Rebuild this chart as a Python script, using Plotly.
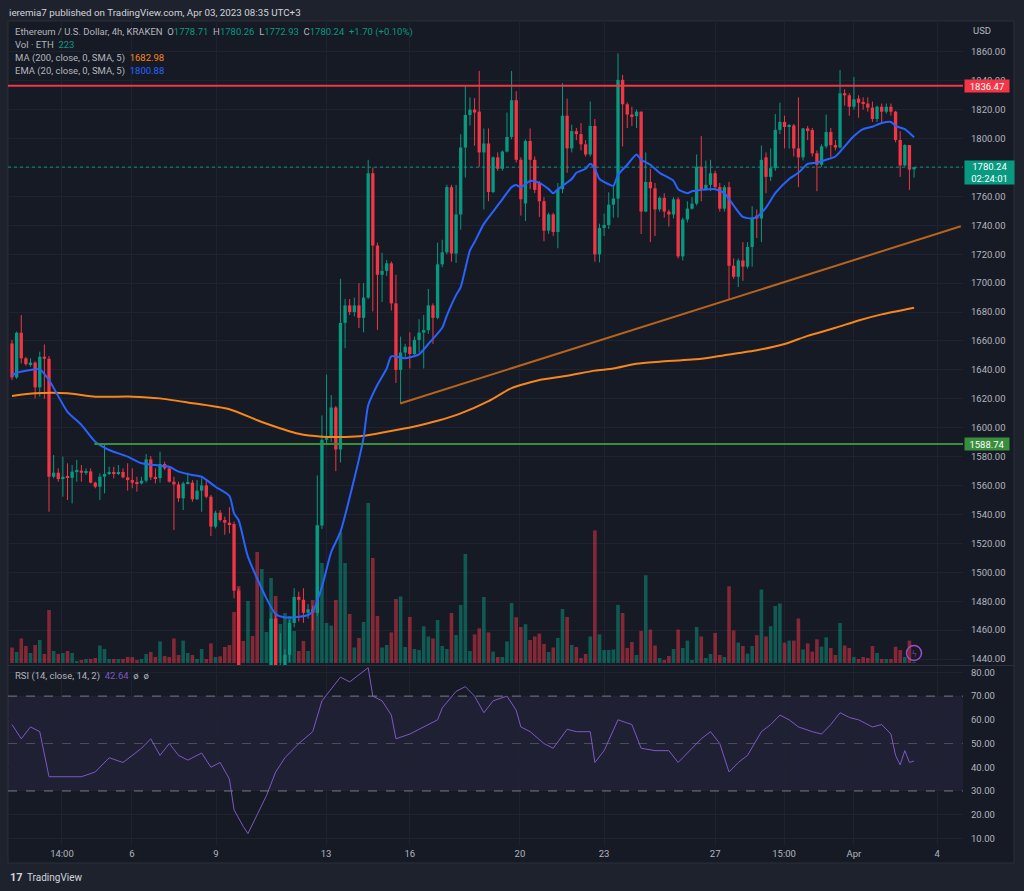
import plotly.graph_objects as go

W, H = 1024, 891

# ---------------- data (4h candles, ETH/USD, KRAKEN) ----------------
opens = [1658.3, 1634.8, 1665.7, 1648.0, 1644.0, 1645.0, 1627.9, 1649.1, 1647.7, 1566.1,
 1568.9, 1564.5, 1566.1, 1565.4, 1569.6, 1570.3, 1568.9, 1569.8, 1562.0, 1559.2,
 1566.1, 1568.0, 1568.9, 1568.0, 1569.4, 1565.7, 1563.8, 1562.0, 1561.5, 1563.4,
 1578.1, 1565.7, 1565.2, 1574.9, 1571.9, 1562.7, 1560.8, 1551.2, 1561.5, 1562.0,
 1550.5, 1556.5, 1560.1, 1552.3, 1531.6, 1541.2, 1536.2, 1534.3, 1533.4, 1487.3,
 1425.0, 1415.0, 1420.0, 1408.0, 1392.0, 1410.0, 1422.0, 1468.0, 1428.0, 1434.0,
 1443.0, 1465.0, 1483.0, 1481.0, 1472.0, 1474.4, 1472.0, 1532.4, 1591.6, 1594.0,
 1614.0, 1585.0, 1672.5, 1684.6, 1680.0, 1684.6, 1676.0, 1690.0, 1776.0, 1726.0,
 1705.8, 1708.5, 1713.7, 1686.0, 1640.0, 1652.0, 1656.0, 1651.0, 1660.7, 1665.8,
 1667.5, 1684.6, 1676.0, 1713.0, 1721.3, 1766.4, 1720.5, 1747.5, 1793.8, 1816.3,
 1820.0, 1818.6, 1790.4, 1796.6, 1763.0, 1787.0, 1779.1, 1791.0, 1801.1, 1826.5,
 1785.3, 1755.1, 1798.3, 1785.3, 1769.3, 1756.6, 1736.3, 1747.5, 1735.4, 1765.0,
 1815.8, 1793.2, 1805.1, 1803.1, 1796.0, 1789.0, 1808.7, 1719.9, 1738.2, 1740.2,
 1754.3, 1758.5, 1840.6, 1823.7, 1816.6, 1815.5, 1818.6, 1749.5, 1770.0, 1765.6,
 1751.0, 1759.0, 1749.5, 1747.5, 1758.0, 1718.5, 1744.0, 1751.5, 1755.0, 1780.5,
 1765.0, 1768.0, 1776.0, 1766.4, 1751.5, 1766.4, 1712.0, 1704.4, 1715.7, 1711.4,
 1725.0, 1746.7, 1744.7, 1787.0, 1773.5, 1779.5, 1806.0, 1811.5, 1808.0, 1809.0,
 1793.2, 1787.0, 1807.0, 1805.9, 1789.8, 1781.9, 1794.6, 1804.5, 1795.5, 1793.8,
 1831.3, 1829.9, 1822.0, 1827.6, 1824.8, 1824.2, 1821.4, 1813.5, 1822.0, 1818.6,
 1822.0, 1818.6, 1799.0, 1781.4, 1795.5, 1778.71]

highs = [1660.6, 1666.5, 1677.9, 1649.0, 1648.0, 1646.0, 1652.6, 1657.6, 1649.6, 1581.1,
 1571.9, 1580.0, 1575.4, 1574.2, 1577.7, 1574.2, 1571.9, 1571.9, 1562.7, 1568.4,
 1588.5, 1573.0, 1573.0, 1574.2, 1571.9, 1575.4, 1571.9, 1566.1, 1566.1, 1581.8,
 1580.4, 1571.9, 1583.4, 1576.5, 1573.0, 1566.1, 1562.7, 1562.7, 1568.9, 1563.8,
 1563.8, 1565.0, 1563.8, 1553.5, 1542.6, 1543.1, 1538.5, 1545.0, 1535.0, 1489.0,
 1432.0, 1428.0, 1430.0, 1425.0, 1420.0, 1434.0, 1472.0, 1472.0, 1458.0, 1447.0,
 1467.0, 1489.0, 1486.6, 1489.0, 1478.0, 1477.0, 1567.0, 1608.5, 1636.7, 1622.6,
 1615.0, 1703.0, 1689.0, 1689.0, 1690.0, 1700.0, 1700.0, 1785.3, 1780.0, 1728.0,
 1721.0, 1716.0, 1715.0, 1705.8, 1663.0, 1658.0, 1666.0, 1663.0, 1675.0, 1678.0,
 1696.0, 1686.0, 1728.0, 1730.0, 1768.0, 1768.0, 1768.0, 1803.0, 1837.0, 1828.5,
 1828.0, 1846.8, 1807.0, 1807.0, 1787.6, 1790.4, 1791.8, 1818.0, 1846.8, 1832.7,
 1787.0, 1799.4, 1807.0, 1787.6, 1770.7, 1759.4, 1748.7, 1748.7, 1769.3, 1838.3,
 1827.6, 1809.6, 1807.3, 1810.7, 1798.9, 1825.6, 1813.5, 1741.1, 1748.1, 1762.8,
 1767.8, 1858.9, 1844.0, 1825.0, 1822.0, 1820.0, 1818.8, 1790.4, 1779.1, 1769.3,
 1760.0, 1762.2, 1750.9, 1759.4, 1759.4, 1745.3, 1756.6, 1759.4, 1789.0, 1801.7,
 1784.8, 1785.3, 1777.7, 1769.3, 1767.8, 1770.1, 1717.1, 1717.1, 1728.4, 1728.4,
 1753.2, 1750.9, 1795.2, 1790.4, 1793.2, 1817.0, 1824.8, 1815.8, 1810.1, 1810.1,
 1828.5, 1807.3, 1808.7, 1807.3, 1791.8, 1796.0, 1816.6, 1807.3, 1798.9, 1847.4,
 1834.1, 1831.3, 1842.6, 1829.9, 1828.5, 1828.5, 1825.6, 1822.8, 1824.2, 1824.2,
 1824.2, 1819.2, 1805.1, 1796.0, 1795.5, 1780.26]

lows = [1633.0, 1633.7, 1644.5, 1642.9, 1642.2, 1620.3, 1621.5, 1620.1, 1541.9, 1565.0,
 1562.7, 1552.3, 1550.0, 1547.7, 1562.7, 1562.7, 1567.3, 1561.5, 1558.1, 1550.0,
 1554.6, 1567.3, 1565.0, 1567.3, 1565.0, 1556.5, 1558.1, 1555.8, 1560.8, 1562.0,
 1563.8, 1561.5, 1562.0, 1570.7, 1562.0, 1529.3, 1548.8, 1543.1, 1560.8, 1548.8,
 1550.0, 1541.9, 1551.2, 1525.1, 1530.4, 1535.0, 1526.0, 1527.0, 1482.0, 1410.0,
 1405.0, 1395.0, 1400.0, 1385.0, 1372.0, 1400.0, 1418.0, 1415.0, 1420.0, 1428.0,
 1438.0, 1462.0, 1466.0, 1465.0, 1468.0, 1460.0, 1470.0, 1530.0, 1588.0, 1590.0,
 1570.0, 1576.0, 1655.0, 1678.0, 1677.0, 1669.0, 1666.0, 1689.0, 1680.4, 1667.7,
 1687.0, 1705.0, 1681.0, 1631.0, 1617.0, 1649.0, 1641.0, 1649.0, 1652.0, 1641.0,
 1665.0, 1658.0, 1675.0, 1711.0, 1720.0, 1714.8, 1714.0, 1737.0, 1773.0, 1809.0,
 1795.0, 1780.5, 1751.0, 1756.6, 1762.2, 1777.7, 1777.7, 1790.4, 1799.4, 1783.4,
 1746.7, 1743.0, 1765.0, 1762.2, 1745.8, 1728.9, 1734.0, 1732.6, 1724.1, 1762.2,
 1776.3, 1790.4, 1798.9, 1791.8, 1787.6, 1787.6, 1714.8, 1714.3, 1732.6, 1737.4,
 1745.3, 1745.3, 1794.6, 1807.3, 1808.7, 1807.3, 1734.0, 1749.0, 1728.4, 1732.6,
 1749.5, 1745.3, 1739.1, 1744.7, 1717.1, 1715.7, 1742.0, 1750.9, 1753.7, 1756.6,
 1764.0, 1763.6, 1765.0, 1749.5, 1749.5, 1688.9, 1703.0, 1697.3, 1701.6, 1710.0,
 1711.4, 1731.2, 1728.4, 1762.2, 1770.7, 1777.7, 1803.1, 1793.2, 1793.2, 1787.6,
 1766.4, 1784.8, 1798.9, 1787.6, 1763.6, 1780.5, 1793.2, 1787.0, 1791.8, 1793.2,
 1822.8, 1815.8, 1820.0, 1814.4, 1820.0, 1818.6, 1811.5, 1811.5, 1810.1, 1817.2,
 1815.8, 1797.4, 1773.5, 1780.5, 1764.5, 1772.93]

closes = [1634.8, 1665.7, 1648.0, 1644.0, 1645.0, 1627.9, 1649.1, 1647.7, 1566.1, 1568.9,
 1564.5, 1566.1, 1565.4, 1569.6, 1570.3, 1568.9, 1569.8, 1562.0, 1559.2, 1566.1,
 1568.0, 1568.9, 1568.0, 1569.4, 1565.7, 1563.8, 1562.0, 1561.5, 1563.4, 1578.1,
 1565.7, 1565.2, 1574.9, 1571.9, 1562.7, 1560.8, 1551.2, 1561.5, 1562.0, 1550.5,
 1556.5, 1560.1, 1552.3, 1531.6, 1541.2, 1536.2, 1534.3, 1533.4, 1487.3, 1425.0,
 1415.0, 1420.0, 1408.0, 1392.0, 1410.0, 1422.0, 1468.0, 1428.0, 1434.0, 1443.0,
 1465.0, 1483.0, 1481.0, 1472.0, 1474.4, 1472.0, 1532.4, 1591.6, 1594.0, 1614.0,
 1585.0, 1672.5, 1684.6, 1680.0, 1684.6, 1676.0, 1690.0, 1776.0, 1726.0, 1705.8,
 1708.5, 1713.7, 1686.0, 1640.0, 1652.0, 1656.0, 1651.0, 1660.7, 1665.8, 1667.5,
 1684.6, 1676.0, 1713.0, 1721.3, 1766.4, 1720.5, 1747.5, 1793.8, 1816.3, 1820.0,
 1818.0, 1790.4, 1796.6, 1763.0, 1787.0, 1779.1, 1791.0, 1801.1, 1826.5, 1785.3,
 1758.0, 1798.3, 1785.3, 1764.5, 1756.6, 1736.3, 1747.5, 1735.4, 1765.0, 1815.8,
 1793.2, 1805.1, 1803.1, 1796.0, 1789.0, 1808.7, 1719.9, 1738.2, 1740.2, 1754.3,
 1758.5, 1840.6, 1823.7, 1816.6, 1815.5, 1818.6, 1749.5, 1770.0, 1765.6, 1751.0,
 1759.0, 1749.5, 1747.5, 1758.0, 1718.5, 1744.0, 1751.5, 1755.0, 1780.5, 1765.0,
 1768.0, 1776.0, 1766.4, 1751.5, 1766.4, 1712.0, 1704.4, 1715.7, 1711.4, 1725.0,
 1745.3, 1744.7, 1785.3, 1773.5, 1779.5, 1806.0, 1811.5, 1808.0, 1809.0, 1793.2,
 1787.0, 1807.0, 1805.9, 1789.8, 1781.9, 1794.6, 1804.5, 1795.5, 1793.8, 1831.3,
 1829.9, 1822.0, 1827.1, 1824.8, 1824.2, 1821.4, 1813.5, 1822.0, 1818.6, 1822.0,
 1818.6, 1799.0, 1781.4, 1795.5, 1778.54, 1780.24]

volume = [3875, 2750, 6125, 4250, 2500, 4500, 5750, 2250, 13250, 3000,
 2250, 2500, 3000, 2500, 500, 750, 1000, 1000, 1250, 4375,
 3500, 1000, 1000, 1000, 1000, 1500, 1500, 750, 1000, 2250,
 2750, 1500, 5400, 1750, 1500, 6125, 2000, 5600, 2500, 2000,
 1000, 3500, 1000, 4900, 1500, 1675, 4000, 4500, 12750, 19250,
 5500, 15500, 6750, 27750, 23500, 7750, 21250, 16750, 9750, 12500,
 11750, 8000, 3000, 5500, 3000, 15750, 34500, 25000, 10000, 9375,
 15750, 32650, 25000, 12250, 3875, 6250, 10250, 40000, 26250, 11750,
 3875, 4500, 7650, 16000, 16625, 4000, 11500, 3500, 3250, 9175,
 6625, 6125, 10750, 4250, 3500, 12500, 7000, 14500, 27250, 3000,
 7150, 8675, 16500, 7650, 2850, 1500, 1500, 5400, 15000, 11425,
 9000, 9700, 5750, 6625, 7350, 4750, 2750, 3875, 6250, 13500,
 11500, 4500, 4000, 1250, 2250, 6625, 33150, 7150, 3250, 3250,
 3375, 14500, 12500, 3750, 5250, 2000, 8000, 21950, 8375, 4375,
 1250, 750, 1750, 3500, 8375, 3750, 5600, 750, 9000, 6625,
 1250, 2250, 7500, 2000, 1500, 19175, 8175, 5100, 4250, 2350,
 4250, 6950, 18375, 6625, 9175, 14250, 14900, 5100, 5600, 5600,
 11125, 3375, 4900, 2850, 5925, 4075, 6425, 3750, 2000, 10000,
 4375, 3750, 1500, 1000, 1500, 1250, 4250, 2500, 1000, 1000,
 1000, 4075, 3250, 1500, 5600, 223]

# EMA(20) read at sample candles
ema_idx = [0, 1, 4, 6, 8, 12, 15, 18, 21, 25, 28, 31, 34, 36, 39, 41, 44, 47, 48, 49,
 51, 55, 57, 59, 62, 64, 65, 67, 69, 71, 74, 76, 77, 79, 81, 82, 85, 88, 90, 93,
 94, 96, 97, 99, 100, 102, 104, 106, 108, 109, 110, 112, 114, 116, 117, 118, 121, 122, 124, 125,
 126, 127, 129, 130, 131, 133, 135, 136, 138, 140, 143, 144, 146, 147, 149, 152, 154, 156, 158, 160,
 161, 163, 165, 168, 170, 172, 174, 176, 178, 180, 182, 184, 186, 188, 190, 191, 193, 195]
ema_val = [1636.0, 1638.0, 1640.0, 1640.4, 1633.0, 1611.0, 1602.0, 1590.3, 1584.6, 1580.0,
 1575.4, 1574.2, 1573.0, 1569.6, 1567.3, 1566.1, 1559.2, 1552.8, 1540.8, 1536.0,
 1510.8, 1482.0, 1471.1, 1468.8, 1469.3, 1470.5, 1472.8, 1490.0, 1514.0, 1528.0,
 1564.8, 1593.0, 1615.6, 1629.7, 1641.0, 1649.4, 1648.0, 1650.8, 1657.9, 1669.1,
 1677.6, 1691.7, 1697.3, 1722.7, 1728.4, 1741.0, 1749.5, 1758.0, 1766.4, 1767.8,
 1766.4, 1770.7, 1769.3, 1765.0, 1762.2, 1765.0, 1772.0, 1776.3, 1779.1, 1782.5,
 1779.1, 1772.0, 1768.4, 1767.3, 1774.9, 1781.9, 1789.0, 1785.3, 1781.9, 1776.3,
 1770.7, 1765.0, 1762.2, 1763.6, 1764.5, 1765.0, 1762.2, 1753.7, 1745.8, 1744.7,
 1745.8, 1752.3, 1762.2, 1772.0, 1776.3, 1782.5, 1783.4, 1785.3, 1787.6, 1794.6,
 1801.7, 1806.5, 1808.2, 1810.7, 1811.5, 1808.7, 1806.5, 1800.88]

# MA(200) read at sample candles
ma_idx = [0, 5, 12, 18, 26, 32, 38, 47, 54, 62, 67, 72, 76, 81, 87, 92, 97, 103, 108, 114,
 120, 126, 130, 135, 140, 149, 154, 161, 167, 172, 178, 183, 188, 195]
ma_val = [1622.0, 1623.8, 1623.8, 1621.5, 1621.5, 1620.3, 1617.5, 1612.8, 1604.0, 1595.8,
 1593.8, 1593.6, 1594.4, 1597.2, 1600.9, 1604.8, 1609.9, 1618.4, 1627.4, 1633.0,
 1635.9, 1639.5, 1640.9, 1644.3, 1645.7, 1647.7, 1650.2, 1653.6, 1657.9, 1663.5,
 1669.1, 1674.2, 1678.4, 1682.98]

# RSI(14) read at sample candles
rsi_idx = [0, 2, 4, 6, 8, 10, 15, 18, 21, 24, 28, 30, 32, 34, 36, 38, 41, 43, 45, 47,
 48, 50, 51, 53, 55, 57, 59, 62, 65, 67, 69, 71, 73, 75, 77, 78, 80, 82, 83, 86,
 89, 92, 93, 96, 98, 100, 102, 104, 107, 109, 110, 112, 115, 117, 120, 122, 125, 126, 128, 131,
 134, 136, 139, 142, 144, 147, 149, 151, 153, 155, 157, 159, 162, 164, 166, 168, 170, 173, 175, 177,
 179, 181, 183, 186, 188, 190, 191, 192, 193, 194, 195]
rsi_val = [58, 52, 57, 55, 36, 36, 36, 38, 44, 42, 48, 52, 45, 50, 45, 43, 46, 40, 42, 35,
 22, 15, 12, 20, 28, 38, 44, 50, 55, 68, 73, 78, 76, 79, 82, 70, 68, 62, 52, 54,
 57, 60, 65, 72, 74, 70, 63, 68, 70, 64, 57, 55, 50, 48, 56, 55, 55, 42, 47, 60,
 58, 48, 47, 47, 42, 48, 52, 55, 50, 38, 42, 45, 55, 58, 62, 60, 57, 55, 54, 58,
 63, 61, 60, 57, 58, 54, 45, 41, 47, 42, 42.64]

# x-axis labels (position in candle units) and value-axis ticks
time_tick_pos = [10.8, 25.9, 44.1, 67.9, 86.0, 109.8, 128.0, 152.0, 166.9, 182.0, 200.0]
time_tick_text = ["14:00", "6", "9", "13", "16", "20", "23", "27", "15:00", "Apr", "4"]
price_ticks = [1440, 1460, 1480, 1500, 1520, 1540, 1560, 1580, 1600, 1620, 1640, 1660,
               1680, 1700, 1720, 1740, 1760, 1780, 1800, 1820, 1840, 1860]
rsi_ticks = [10, 20, 30, 40, 50, 60, 70, 80]

# drawings
resistance = 1836.47
support = 1588.74
support_start = 17.8
trend_idx = [83.9, 205.1]
trend_val = [1616.8, 1739.3]
countdown = "02:24:01"
last_volume = 223
rsi_bands = [30, 50, 70]

# ---------------- styles ----------------
UP, DN = "#089981", "#F23645"
UP_V, DN_V = "rgba(8,153,129,0.5)", "rgba(242,54,69,0.5)"
BG_OUT, BG = "#1E222D", "#161A25"
GRID = "#1F2330"
TXT = "#B2B5BE"
FONT = "Roboto"

def px(x):
    return x / W

def py(y):
    return 1 - y / H

idx = list(range(len(opens)))
is_up = [c >= o for o, c in zip(opens, closes)]
body_base = [min(o, c) for o, c in zip(opens, closes)]
body_h = [max(abs(c - o), 0.8) for o, c in zip(opens, closes)]
body_col = [UP if u else DN for u in is_up]
vol_col = [UP_V if u else DN_V for u in is_up]

wx_u, wy_u, wx_d, wy_d = [], [], [], []
for i, (h, l, u) in enumerate(zip(highs, lows, is_up)):
    if u:
        wx_u += [i, i, None]; wy_u += [l, h, None]
    else:
        wx_d += [i, i, None]; wy_d += [l, h, None]

fig = go.Figure()
# volume on base axis (drawn first, below price)
fig.add_trace(go.Bar(x=idx, y=volume, marker=dict(color=vol_col, line=dict(width=0)),
                     width=0.78, xaxis="x", yaxis="y", hoverinfo="skip"))
# price subplot (overlay)
fig.add_trace(go.Scatter(x=wx_u, y=wy_u, mode="lines", line=dict(color=UP, width=1),
                         xaxis="x", yaxis="y3", hoverinfo="skip"))
fig.add_trace(go.Scatter(x=wx_d, y=wy_d, mode="lines", line=dict(color=DN, width=1),
                         xaxis="x", yaxis="y3", hoverinfo="skip"))
fig.add_trace(go.Bar(x=idx, y=body_h, base=body_base, width=0.72,
                     marker=dict(color=body_col, line=dict(width=0)),
                     xaxis="x", yaxis="y3", hoverinfo="skip"))
fig.add_trace(go.Scatter(x=ma_idx, y=ma_val, mode="lines", line=dict(color="#F7861C", width=2, shape="spline", smoothing=0.6),
                         xaxis="x", yaxis="y3", hoverinfo="skip"))
fig.add_trace(go.Scatter(x=ema_idx, y=ema_val, mode="lines", line=dict(color="#2962FF", width=2, shape="spline", smoothing=0.6),
                         xaxis="x", yaxis="y3", hoverinfo="skip"))
fig.add_trace(go.Scatter(x=trend_idx, y=trend_val, mode="lines", line=dict(color="#B8621B", width=2),
                         xaxis="x", yaxis="y3", hoverinfo="skip"))
# RSI
fig.add_trace(go.Scatter(x=rsi_idx, y=rsi_val, mode="lines", line=dict(color="#7E57C2", width=1),
                         xaxis="x2", yaxis="y2", hoverinfo="skip"))

XR = [-0.865, 205.58]
XD = [px(8), px(963)]
PRICE_R = [1435.9, 1881.3]
VOL_R = [-500, 644 * 250 - 500]

axis_common = dict(showline=False, zeroline=False, ticks="", fixedrange=True)
fig.update_layout(
    width=W, height=H, margin=dict(l=0, r=0, t=0, b=0),
    paper_bgcolor=BG_OUT, plot_bgcolor="rgba(0,0,0,0)",
    showlegend=False, barmode="overlay",
    font=dict(family=FONT, size=9.5, color=TXT),
    xaxis=dict(domain=XD, range=XR, anchor="y", tickvals=time_tick_pos, showticklabels=False,
               showgrid=True, gridcolor=GRID, gridwidth=1, **axis_common),
    yaxis=dict(domain=[py(665), py(21)], range=VOL_R, visible=False, showgrid=False, **axis_common),
    yaxis3=dict(overlaying="y", anchor="x", side="right", range=PRICE_R,
                tickvals=price_ticks, ticktext=[f"{v:.2f}" for v in price_ticks],
                tickfont=dict(family=FONT, size=9.5, color=TXT), ticklabelstandoff=7,
                showgrid=True, gridcolor=GRID, gridwidth=1, **axis_common),
    xaxis2=dict(domain=XD, range=XR, anchor="y2", matches="x", tickvals=time_tick_pos, ticktext=time_tick_text,
                tickfont=dict(family=FONT, size=9.5, color=TXT), ticklabelstandoff=1,
                showgrid=True, gridcolor=GRID, gridwidth=1, **axis_common),
    yaxis2=dict(domain=[py(845), py(666)], range=[7.2, 82.7], anchor="x2", side="right",
                tickvals=rsi_ticks, ticktext=[f"{v:.2f}" for v in rsi_ticks],
                tickfont=dict(family=FONT, size=9.5, color=TXT), ticklabelstandoff=7,
                showgrid=True, gridcolor=GRID, gridwidth=1, **axis_common),
)

shapes = [
    # chart frame
    dict(type="rect", xref="paper", yref="paper", x0=px(8), x1=px(1014), y0=py(863), y1=py(21),
         fillcolor=BG, line=dict(color="#2A2E39", width=1), layer="below"),
    # pane separator
    dict(type="line", xref="paper", yref="paper", x0=px(8), x1=px(1014), y0=py(665.5), y1=py(665.5),
         line=dict(color="#2A2E39", width=1), layer="above"),
    # RSI band
    dict(type="rect", xref="x2 domain", yref="y2", x0=0, x1=1, y0=rsi_bands[0], y1=rsi_bands[2],
         fillcolor="rgba(126,87,194,0.1)", line=dict(width=0), layer="below"),
    dict(type="line", xref="x2 domain", yref="y2", x0=0, x1=1, y0=rsi_bands[2], y1=rsi_bands[2],
         line=dict(color="#787B86", width=1, dash="dash")),
    dict(type="line", xref="x2 domain", yref="y2", x0=0, x1=1, y0=rsi_bands[1], y1=rsi_bands[1],
         line=dict(color="rgba(120,123,134,0.5)", width=1, dash="dash")),
    dict(type="line", xref="x2 domain", yref="y2", x0=0, x1=1, y0=rsi_bands[0], y1=rsi_bands[0],
         line=dict(color="#787B86", width=1, dash="dash")),
    # current price dotted line
    dict(type="line", xref="x domain", yref="y3", x0=0, x1=1, y0=closes[-1], y1=closes[-1],
         line=dict(color=UP, width=1, dash="dot")),
    # resistance & support
    dict(type="line", xref="x domain", yref="y3", x0=0, x1=1, y0=resistance, y1=resistance,
         line=dict(color=DN, width=2)),
    dict(type="line", xref="x", yref="y3", x0=support_start, x1=XR[1], y0=support, y1=support,
         line=dict(color="#388E3C", width=2)),
    # lightning badge
    dict(type="circle", xref="paper", yref="paper", x0=px(906.5), x1=px(921.5), y0=py(660.5), y1=py(645.5),
         line=dict(color="#9C4DCC", width=1.5), fillcolor="rgba(0,0,0,0)"),
]
fig.update_layout(shapes=shapes)

def span(t, c):
    return f"<span style='color:{c}'>{t}</span>"

chg = closes[-1] - closes[-2]
nb = "\u00a0"
line1 = ("Ethereum / U.S. Dollar, 4h, KRAKEN" + nb * 2 +
         "O" + span(f"{opens[-1]:.2f}", UP) + nb * 2 + "H" + span(f"{highs[-1]:.2f}", UP) + nb * 2 +
         "L" + span(f"{lows[-1]:.2f}", UP) + nb * 2 + "C" + span(f"{closes[-1]:.2f}", UP) + nb * 2 +
         span(f"+{chg:.2f} (+{chg / closes[-2] * 100:.2f}%)", UP))
line2 = "Vol · ETH" + nb * 2 + span(str(last_volume), UP)
line3 = "MA (200, close, 0, SMA, 5)" + nb * 2 + span(f"{ma_val[-1]:.2f}", "#F7861C")
line4 = "EMA (20, close, 0, SMA, 5)" + nb * 2 + span(f"{ema_val[-1]:.2f}", "#2962FF")
rsi_line = "RSI (14, close, 14, 2)" + nb * 2 + span(f"{rsi_val[-1]:.2f}", "#7E57C2") + nb * 2 + "ø" + nb * 2 + "ø"

def ann(text, x, y, size=9.5, color=TXT, xanchor="left", **kw):
    return dict(text=text, x=px(x), y=py(y), xref="paper", yref="paper", xanchor=xanchor, yanchor="middle",
                showarrow=False, font=dict(family=FONT, size=size, color=color), **kw)

annotations = [
    ann("ieremia7 published on TradingView.com, Apr 03, 2023 08:35 UTC+3", 7, 12, size=9.8, color="#D1D4DC"),
    ann(line1, 13, 32),
    ann(line2, 13, 45),
    ann(line3, 13, 58),
    ann(line4, 13, 71),
    ann(rsi_line, 13, 676),
    ann("USD", 971, 31),
    ann("<b>17</b>", 8, 877, size=11, color="#D1D4DC"),
    ann("TradingView", 25, 877, size=10, color="#D1D4DC"),
    ann("ϟ", 914, 653, size=10, color="#9C4DCC", xanchor="center"),
    # price-scale labels
    dict(text=f"{resistance:.2f}", x=px(964), y=resistance, xref="paper", yref="y3", xanchor="left", yanchor="middle",
         showarrow=False, bgcolor=DN, width=44, height=12, borderpad=0,
         font=dict(family=FONT, size=9.5, color="#FFFFFF")),
    dict(text=f"{closes[-1]:.2f}<br>{countdown}", x=px(964), y=closes[-1], xref="paper", yref="y3", xanchor="left",
         yanchor="middle", yshift=-5, showarrow=False, bgcolor=UP, width=49, height=23, borderpad=0,
         font=dict(family=FONT, size=9.5, color="#FFFFFF")),
    dict(text=f"{support:.2f}", x=px(964), y=support, xref="paper", yref="y3", xanchor="left", yanchor="middle",
         showarrow=False, bgcolor="#388E3C", width=44, height=12, borderpad=0,
         font=dict(family=FONT, size=9.5, color="#FFFFFF")),
]
fig.update_layout(annotations=annotations)

fig.write_html("out.html")
